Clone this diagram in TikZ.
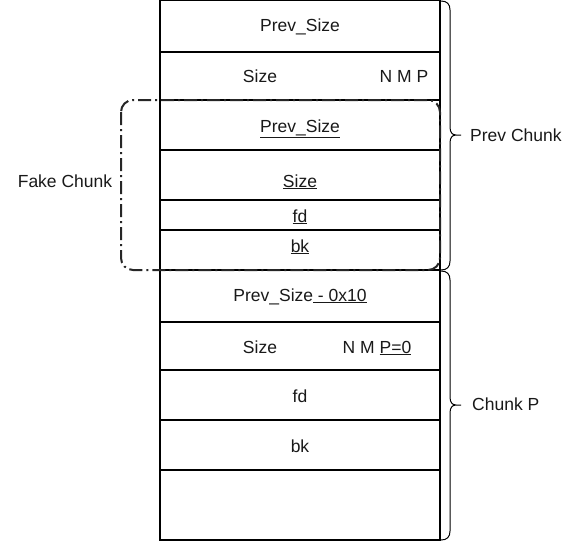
\documentclass[tikz,border=0pt]{standalone}
\usepackage{fontspec}
\setmainfont{Liberation Sans}
\begin{document}
\begin{tikzpicture}[x=1pt,y=-1pt,
  rowbox/.style={draw=black,line width=1.1pt,minimum width=280pt,inner sep=0pt,outer sep=0pt},
  txt/.style={font=\fontsize{17.5}{20}\selectfont,inner sep=0pt,anchor=base,text=black!90},
  fakebox/.style={draw=black!85,line width=2pt,rounded corners=12pt,dash pattern=on 13pt off 4pt on 2pt off 4pt},
  bracepath/.style={draw=black,line width=1pt}]
\useasboundingbox (0,0) rectangle (581,541);
% rows
\node[rowbox,minimum height=52pt] (r1) at (300,26) {};
\node[rowbox,minimum height=48pt] (r2) at (300,76) {};
\node[rowbox,minimum height=50pt] (r3) at (300,125) {};
\node[rowbox,minimum height=50pt] (r4) at (300,175) {};
\node[rowbox,minimum height=30pt] (r5) at (300,215) {};
\node[rowbox,minimum height=40pt] (r6) at (300,250) {};
\node[rowbox,minimum height=52pt] (r7) at (300,296) {};
\node[rowbox,minimum height=48pt] (r8) at (300,346) {};
\node[rowbox,minimum height=50pt] (r9) at (300,395) {};
\node[rowbox,minimum height=50pt] (r10) at (300,445) {};
\node[rowbox,minimum height=70pt] (r11) at (300,505) {};
% texts
\node[txt] (t1) at (300,31) {Prev\_Size};
\node[txt] (t2a) at (260,82) {Size};
\node[txt] (t2b) at (404,82) {N M P};
\node[txt] (t3) at (300,132) {\underline{Prev\_Size}};
\node[txt] (t4) at (300,187) {\underline{Size}};
\node[txt] (t5) at (300,222) {\underline{fd}};
\node[txt] (t6) at (300,252) {\underline{bk}};
\node[txt] (t7) at (300,301) {Prev\_Size\underline{\ - 0x10}};
\node[txt] (t8a) at (260,353) {Size};
\node[txt] (t8b) at (377,353) {N M \underline{P=0}};
\node[txt] (t9) at (300,402) {fd};
\node[txt] (t10) at (300,452) {bk};
% fake chunk frame
\draw[fakebox] (121,100) rectangle (440,270);
\node[txt] (fake) at (65,187) {Fake Chunk};
% braces
\draw[bracepath] (441,1) .. controls (447,1) and (450,4) .. (450,10) -- (450,127)
  .. controls (450,132) and (452,135) .. (456,135) -- (461,135)
  (456,135) .. controls (452,135) and (450,138) .. (450,143) -- (450,261)
  .. controls (450,267) and (447,270) .. (441,270);
\draw[bracepath] (441,271) .. controls (447,271) and (450,274) .. (450,280) -- (450,397)
  .. controls (450,402) and (452,405) .. (456,405) -- (461,405)
  (456,405) .. controls (452,405) and (450,408) .. (450,413) -- (450,531)
  .. controls (450,537) and (447,540) .. (441,540);
\node[txt,anchor=base west] (prev) at (470,141) {Prev Chunk};
\node[txt,anchor=base west] (chunkp) at (472,410) {Chunk P};
\end{tikzpicture}
\end{document}
